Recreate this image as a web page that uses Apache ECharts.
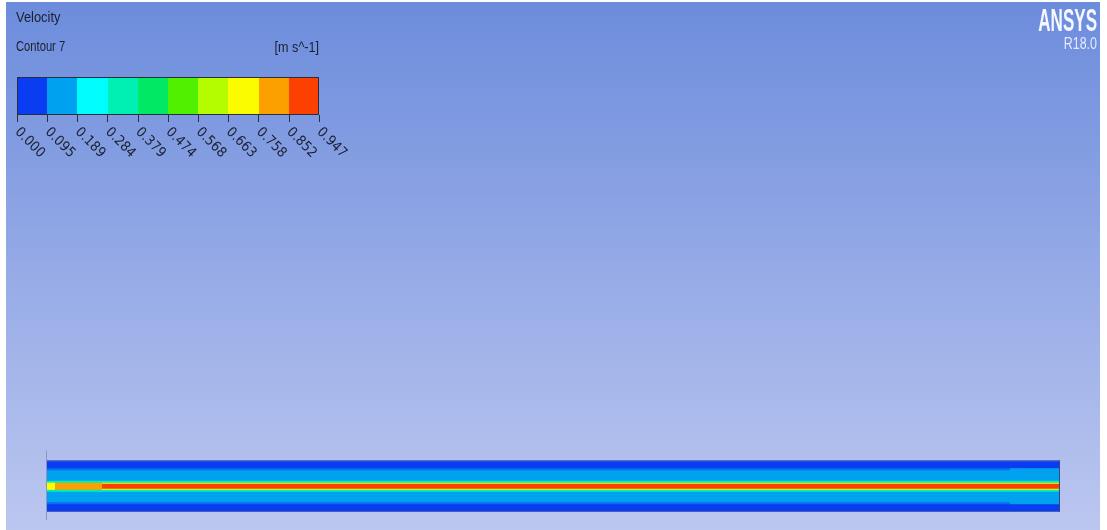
<!DOCTYPE html>
<html>
<head>
<meta charset="utf-8">
<title>Velocity – Contour 7</title>
<script src="https://cdn.jsdelivr.net/npm/echarts@6/dist/echarts.min.js"></script>
<style>
  html, body { margin: 0; padding: 0; background: #ffffff; }
  #chart { width: 1107px; height: 530px; }
</style>
</head>
<body>
<div id="chart"></div>
<script>
// Contour legend: level labels and the colour of each band between them
const legendTicks = ['0.000', '0.095', '0.189', '0.284', '0.379', '0.474', '0.568', '0.663', '0.758', '0.852', '0.947'];
const legendColors = ['#0a3cf2', '#00a2f0', '#00fcfc', '#00f0b4', '#00e864', '#50f000', '#b4fc00', '#fcfc00', '#fca000', '#fc4000'];

// Pipe geometry: axial stations (x / L) and radial band edges (r / R, from the axis out)
const axialStations = [0, 0.009, 0.055, 0.951, 1];
const radialEdges = [0, 0.10, 0.14, 0.21, 0.62, 0.70, 1.0];

// Velocity [m s^-1] per radial band, one list per axial segment
const velocityInlet     = [0.72, 0.72, 0.33, 0.14, 0.095, 0.05];
const velocityEntry     = [0.80, 0.80, 0.33, 0.14, 0.095, 0.05];
const velocityDeveloped = [0.90, 0.70, 0.33, 0.14, 0.095, 0.05];
const velocityOutlet    = [0.90, 0.70, 0.33, 0.14, 0.14, 0.05];
const segmentVelocities = [velocityInlet, velocityEntry, velocityDeveloped, velocityOutlet];

const levels = legendTicks.map(Number);

function hexToRgb(h) {
  return [parseInt(h.slice(1, 3), 16), parseInt(h.slice(3, 5), 16), parseInt(h.slice(5, 7), 16)];
}
// Discrete contour colour; a value sitting exactly on a level is drawn as the edge between both bands
function colorFor(v) {
  for (let i = 1; i < levels.length - 1; i++) {
    if (Math.abs(v - levels[i]) < 1e-9) {
      const a = hexToRgb(legendColors[i - 1]), b = hexToRgb(legendColors[i]);
      return 'rgb(' + a.map((c, k) => Math.round((c + b[k]) / 2)).join(',') + ')';
    }
  }
  let idx = 0;
  for (let i = 0; i < legendColors.length; i++) if (v >= levels[i]) idx = i;
  return legendColors[idx];
}

// Cells: outer band first so the inner bands lie on top of it
const pipeCells = [];
segmentVelocities.forEach((vel, s) => {
  for (let b = vel.length - 1; b >= 0; b--) {
    pipeCells.push([axialStations[s], axialStations[s + 1], radialEdges[b + 1], vel[b]]);
  }
});

const legendCells = legendColors.map((c, i) => [i, i + 1, (levels[i] + levels[i + 1]) / 2]);

const chart = echarts.init(document.getElementById('chart'), null, { renderer: 'canvas' });
const textColor = '#1b2030';
const axisFont = '"Liberation Sans Narrow", "DejaVu Sans Condensed", "Liberation Sans", sans-serif';

chart.setOption({
  animation: false,
  backgroundColor: 'transparent',
  graphic: [
    {
      type: 'rect', z: -10, silent: true,
      shape: { x: 6, y: 2, width: 1094, height: 528 },
      style: {
        fill: new echarts.graphic.LinearGradient(0, 0, 0, 1, [
          { offset: 0, color: '#6c8cdc' },
          { offset: 0.5, color: '#95aae6' },
          { offset: 1, color: '#bcc7f0' }
        ])
      }
    },
    { type: 'text', x: 16, y: 18, scaleX: 0.86,
      style: { text: 'Velocity', fill: textColor, font: '15px "Liberation Sans", Arial, sans-serif', verticalAlign: 'middle' } },
    { type: 'text', x: 16, y: 47.5, scaleX: 0.8,
      style: { text: 'Contour 7', fill: textColor, font: '14px "Liberation Sans", Arial, sans-serif', verticalAlign: 'middle' } },
    { type: 'text', x: 319, y: 48.5, scaleX: 0.9,
      style: { text: '[m s^-1]', fill: textColor, font: '14px "Liberation Sans", Arial, sans-serif', align: 'right', verticalAlign: 'middle' } },
    { type: 'text', x: 1097, y: 22.5, scaleX: 0.55,
      style: { text: 'ANSYS', fill: '#f6f8ff', font: 'bold 31px "Liberation Sans", Arial, sans-serif', align: 'right', verticalAlign: 'middle' } },
    { type: 'text', x: 1097, y: 44.5, scaleX: 0.78,
      style: { text: 'R18.0', fill: '#e2e9ff', font: '16px "Liberation Sans", Arial, sans-serif', align: 'right', verticalAlign: 'middle' } }
  ],
  grid: [
    { left: 17, top: 77, width: 302, height: 38 },
    { left: 46, top: 460.5, width: 1014, height: 51.5 }
  ],
  xAxis: [
    {
      gridIndex: 0, type: 'value', min: 0, max: 10, interval: 1,
      splitLine: { show: false },
      axisLine: { show: false },
      axisTick: { show: true, length: 7, lineStyle: { color: '#2a2d3a', width: 1 } },
      axisLabel: {
        rotate: -45, margin: 15, color: textColor, fontSize: 14, fontFamily: axisFont,
        showMinLabel: true, showMaxLabel: true,
        formatter: v => legendTicks[v]
      }
    },
    {
      gridIndex: 1, type: 'value', min: 0, max: 1, z: 5,
      splitLine: { show: false }, axisTick: { show: false }, axisLabel: { show: false },
      axisLine: { show: false }
    }
  ],
  yAxis: [
    { gridIndex: 0, type: 'value', min: 0, max: 1, show: false },
    { gridIndex: 1, type: 'value', min: -1, max: 1, show: false }
  ],
  series: [
    {
      name: 'Velocity legend', type: 'custom', xAxisIndex: 0, yAxisIndex: 0,
      data: legendCells,
      renderItem: function (params, api) {
        const i = params.dataIndex;
        const p0 = api.coord([api.value(0), 1]);
        const p1 = api.coord([api.value(1), 0]);
        const x0 = Math.round(p0[0]), x1 = Math.round(p1[0]);
        const children = [
          { type: 'rect', shape: { x: x0, y: p0[1], width: x1 - x0, height: p1[1] - p0[1] },
            style: { fill: legendColors[i] } },
          { type: 'line', shape: { x1: x0, y1: p0[1] + 0.5, x2: x1, y2: p0[1] + 0.5 }, style: { stroke: '#2a2d3a', lineWidth: 1 } },
          { type: 'line', shape: { x1: x0, y1: p1[1] - 0.5, x2: x1, y2: p1[1] - 0.5 }, style: { stroke: '#2a2d3a', lineWidth: 1 } }
        ];
        if (i === 0) children.push({ type: 'line', shape: { x1: x0 + 0.5, y1: p0[1], x2: x0 + 0.5, y2: p1[1] }, style: { stroke: '#2a2d3a', lineWidth: 1 } });
        if (i === legendCells.length - 1) children.push({ type: 'line', shape: { x1: x1 - 0.5, y1: p0[1], x2: x1 - 0.5, y2: p1[1] }, style: { stroke: '#2a2d3a', lineWidth: 1 } });
        return { type: 'group', children: children };
      }
    },
    {
      name: 'Velocity', type: 'custom', xAxisIndex: 1, yAxisIndex: 1,
      data: pipeCells,
      renderItem: function (params, api) {
        const r = api.value(2);
        const pTop = api.coord([api.value(0), r]);
        const pBot = api.coord([api.value(1), -r]);
        const x0 = Math.round(pTop[0]), x1 = Math.round(pBot[0]);
        return {
          type: 'rect',
          shape: { x: x0, y: pTop[1], width: x1 - x0, height: pBot[1] - pTop[1] },
          style: { fill: colorFor(api.value(3)) }
        };
      }
    },
    {
      // pipe wall outline
      name: 'Wall', type: 'custom', xAxisIndex: 1, yAxisIndex: 1,
      data: [[axialStations[0], axialStations[axialStations.length - 1]]],
      z: 3,
      renderItem: function (params, api) {
        const p0 = api.coord([api.value(0), 1]);
        const p1 = api.coord([api.value(1), -1]);
        return {
          type: 'group',
          children: [
            { type: 'line', shape: { x1: p0[0], y1: p0[1] + 0.5, x2: p1[0], y2: p0[1] + 0.5 }, style: { stroke: '#4a5db4', lineWidth: 1 } },
            { type: 'line', shape: { x1: p0[0], y1: p1[1] - 0.5, x2: p1[0], y2: p1[1] - 0.5 }, style: { stroke: '#4a5db4', lineWidth: 1 } },
            { type: 'line', shape: { x1: p0[0] + 0.5, y1: p0[1] - 10, x2: p0[0] + 0.5, y2: p1[1] + 8 }, style: { stroke: '#8b95c4', lineWidth: 1 } },
            { type: 'line', shape: { x1: p1[0] - 0.5, y1: p0[1], x2: p1[0] - 0.5, y2: p1[1] }, style: { stroke: '#3a4680', lineWidth: 1 } }
          ]
        };
      }
    }
  ]
});
</script>
</body>
</html>
